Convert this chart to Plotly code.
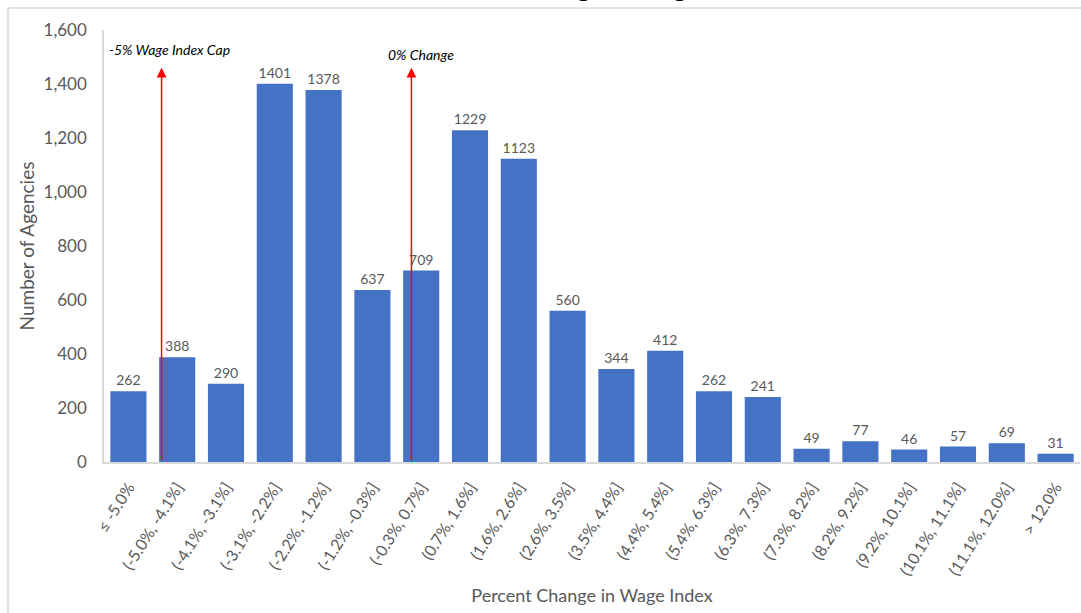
import plotly.graph_objects as go

categories = ["≤ -5.0%", "(-5.0%, -4.1%]", "(-4.1%, -3.1%]", "(-3.1%, -2.2%]", "(-2.2%, -1.2%]",
              "(-1.2%, -0.3%]", "(-0.3%, 0.7%]", "(0.7%, 1.6%]", "(1.6%, 2.6%]", "(2.6%, 3.5%]",
              "(3.5%, 4.4%]", "(4.4%, 5.4%]", "(5.4%, 6.3%]", "(6.3%, 7.3%]", "(7.3%, 8.2%]",
              "(8.2%, 9.2%]", "(9.2%, 10.1%]", "(10.1%, 11.1%]", "(11.1%, 12.0%]", "> 12.0%"]
agencies = [262, 388, 290, 1401, 1378, 637, 709, 1229, 1123, 560,
            344, 412, 262, 241, 49, 77, 46, 57, 69, 31]

y_ticks = [0, 200, 400, 600, 800, 1000, 1200, 1400, 1600]

# Marker positions (category index units) and arrow tip value
cap_pos = 0.68
zero_pos = 5.8
arrow_tip = 1460

W, H = 1081, 613
L, R, T, B = 104, 1, 30, 151
pw, ph = W - L - R, H - T - B

def px_x(p):
    return (p - L) / pw

def px_y(p):
    return (H - B - p) / ph

GRAY = "#595959"
FONT = "Lato"

fig = go.Figure()
fig.add_trace(go.Bar(
    x=categories, y=agencies,
    marker=dict(color="#4472C4", line=dict(width=0)),
    text=[str(v) for v in agencies],
    textposition="outside",
    textfont=dict(family=FONT, size=14, color=GRAY),
    cliponaxis=False,
))

fig.update_layout(
    width=W, height=H,
    margin=dict(l=L, r=R, t=T, b=B),
    paper_bgcolor="white", plot_bgcolor="white",
    bargap=0.26,
    showlegend=False,
    font=dict(family=FONT, color=GRAY),
)

fig.update_xaxes(
    tickangle=-58,
    tickfont=dict(family=FONT, size=16, color=GRAY),
    showline=True, linecolor="#d9d9d9", linewidth=1.5,
    showgrid=False, ticks="",
    ticklabelstandoff=8,
    title=dict(text="Percent Change in Wage Index", font=dict(family=FONT, size=18, color=GRAY), standoff=12),
)
fig.update_yaxes(
    range=[0, 1600],
    tickvals=y_ticks, tickformat=",",
    tickfont=dict(family=FONT, size=17, color=GRAY),
    showline=True, linecolor="#d9d9d9", linewidth=1.5,
    showgrid=False, ticks="", zeroline=False,
    ticklabelstandoff=12,
    title=dict(text="Number of Agencies", font=dict(family=FONT, size=19, color=GRAY), standoff=4),
)

# Red arrows
for pos in (cap_pos, zero_pos):
    fig.add_annotation(
        x=pos, y=arrow_tip, ax=pos, ay=0,
        xref="x", yref="y", axref="x", ayref="y",
        showarrow=True, arrowhead=2, arrowsize=1.3, arrowwidth=1.5,
        arrowcolor="#FF0000", text="",
    )

fig.add_annotation(
    x=px_x(107), y=px_y(49), xref="paper", yref="paper",
    xanchor="left", yanchor="middle", showarrow=False,
    text="<i>-5% Wage Index Cap</i>",
    font=dict(family=FONT, size=14, color="#000000"),
)
fig.add_annotation(
    x=px_x(386), y=px_y(54), xref="paper", yref="paper",
    xanchor="left", yanchor="middle", showarrow=False,
    text="<i>0% Change</i>",
    font=dict(family=FONT, size=14, color="#000000"),
)

# Partially visible title cut off at top of image (as in the reference)
fig.add_annotation(
    x=px_x(776), y=px_y(3.5), xref="paper", yref="paper",
    xanchor="right", yanchor="bottom", showarrow=False,
    text="<b>Percent Change in Wage Index,</b>",
    font=dict(family="Liberation Serif", size=26, color="#000000"),
)

# Chart area border (left and top edges visible)
fig.add_shape(type="line", xref="paper", yref="paper",
              x0=px_x(8), x1=px_x(8), y0=px_y(8), y1=px_y(H + 5),
              line=dict(color="#d9d9d9", width=1.5))
fig.add_shape(type="line", xref="paper", yref="paper",
              x0=px_x(8), x1=px_x(W + 5), y0=px_y(8), y1=px_y(8),
              line=dict(color="#d9d9d9", width=1.5))

fig.write_html("out.html")
